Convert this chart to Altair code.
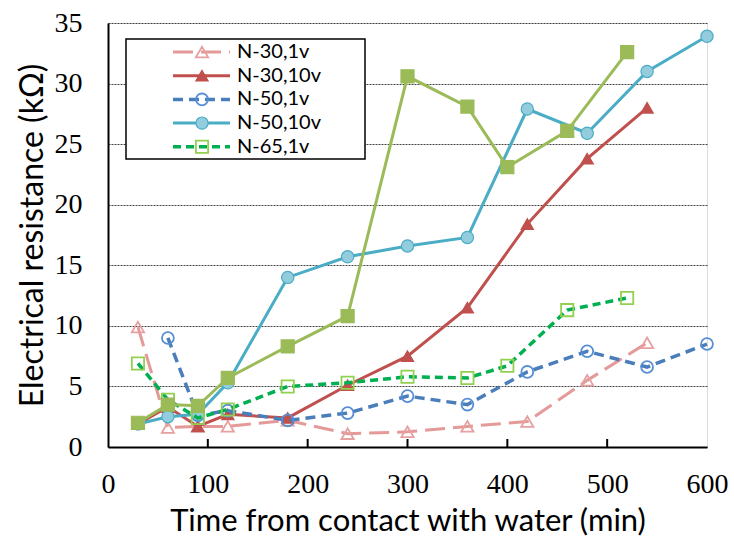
import altair as alt
import pandas as pd

# ---- data ----
t_30_1v = [30, 60, 90, 120, 180, 240, 300, 360, 420, 480, 540]
r_30_1v = [9.9, 1.6, 1.7, 1.7, 2.2, 1.1, 1.25, 1.7, 2.1, 5.5, 8.6]

t_30_10v = [30, 60, 90, 120, 180, 240, 300, 360, 420, 480, 540]
r_30_10v = [1.9, 3.3, 1.7, 2.7, 2.4, 5.1, 7.5, 11.5, 18.4, 23.8, 28.0]

t_50_1v = [60, 90, 120, 180, 240, 300, 360, 420, 480, 540, 600]
r_50_1v = [9.0, 2.6, 3.0, 2.2, 2.8, 4.2, 3.5, 6.2, 7.9, 6.6, 8.5]

t_50_10v = [30, 60, 90, 120, 180, 240, 300, 360, 420, 480, 540, 600]
r_50_10v = [1.9, 2.5, 2.7, 5.3, 14.0, 15.7, 16.6, 17.3, 27.9, 25.9, 31.0, 33.9]

t_65_1v = [30, 60, 90, 120, 180, 240, 300, 360, 400, 460, 520]
r_65_1v = [6.9, 3.9, 2.4, 3.1, 5.0, 5.3, 5.8, 5.7, 6.7, 11.3, 12.3]

t_65_10v = [30, 60, 90, 120, 180, 240, 300, 360, 400, 460, 520]
r_65_10v = [2.0, 3.5, 3.4, 5.7, 8.3, 10.8, 30.6, 28.1, 23.1, 26.1, 32.6]

x_ticks = [0, 100, 200, 300, 400, 500, 600]
y_ticks = [0, 5, 10, 15, 20, 25, 30, 35]
inner_ticks = [100, 200, 300, 400, 500]
legend_names = ["N-30,1v", "N-30,10v", "N-50,1v", "N-50,10v", "N-65,1v"]

W, H = 599, 424
SANS = "Lato"
SERIF = "Liberation Serif"

xs = alt.Scale(domain=[0, 600], nice=False, zero=False)
ys = alt.Scale(domain=[0, 35], nice=False)
X = alt.X("t:Q", scale=xs, axis=alt.Axis(values=x_ticks, title="Time from contact with water (min)",
                                          grid=False, ticks=False, labelPadding=23,
                                          labelFont=SERIF, labelFontSize=28, labelColor="black",
                                          titleFont=SANS, titleFontSize=31, titleFontWeight="normal",
                                          titleColor="black", titlePadding=8,
                                          domainColor="black", domainWidth=2, labelFlush=False))
Y = alt.Y("r:Q", scale=ys, axis=alt.Axis(values=y_ticks, title="Electrical resistance (kΩ)",
                                          grid=True, gridDash=[2, 1], gridColor="#444", gridWidth=1,
                                          ticks=False, labelPadding=26,
                                          labelFont=SERIF, labelFontSize=28, labelColor="black",
                                          titleFont=SANS, titleFontSize=32, titleFontWeight="normal",
                                          titleColor="black", titlePadding=5,
                                          domainColor="black", domainWidth=2))

series = [
    # t, r, line color, width, dash, shape, size, filled, fill, stroke
    (t_30_1v, r_30_1v, "#E39A98", 3, [20, 8], "triangle-up", 150, False, None, "#E6A0A0"),
    (t_30_10v, r_30_10v, "#C0504D", 3, None, "triangle-up", 150, True, "#C0504D", "#C0504D"),
    (t_50_1v, r_50_1v, "#4A7EBB", 3.5, [10, 6], "circle", 140, False, None, "#558ED5"),
    (t_50_10v, r_50_10v, "#4BACC6", 3, None, "circle", 150, True, "#93CDDD", "#4BACC6"),
    (t_65_1v, r_65_1v, "#00B050", 3.5, [8, 5], "square", 150, False, None, "#92D050"),
    (t_65_10v, r_65_10v, "#9BBB59", 3, None, "square", 170, True, "#9BBB59", "#9BBB59"),
]

layers = []
# inner tick marks on x axis
tick_df = pd.DataFrame({"t": inner_ticks})
layers.append(alt.Chart(tick_df).mark_rule(color="black", strokeWidth=2).encode(
    x=X, y=alt.value(H - 8), y2=alt.value(H)))

for t, r, lc, lw, dash, shape, size, filled, fill, stroke in series:
    df = pd.DataFrame({"t": t, "r": r})
    lkw = dict(color=lc, strokeWidth=lw)
    if dash:
        lkw["strokeDash"] = dash
    layers.append(alt.Chart(df).mark_line(**lkw).encode(x=X, y=Y))
    pkw = dict(shape=shape, size=size, filled=filled, stroke=stroke, strokeWidth=1.8, opacity=1)
    if filled:
        pkw["fill"] = fill
        pkw["strokeWidth"] = 1.2
    layers.append(alt.Chart(df).mark_point(**pkw).encode(x=X, y=Y))

# legend
one = pd.DataFrame({"k": [0]})
layers.append(alt.Chart(one).mark_rect(fill="white", stroke="black", strokeWidth=1.5).encode(
    x=alt.value(18), x2=alt.value(257), y=alt.value(16), y2=alt.value(136)))
for i, name in enumerate(legend_names):
    t, r, lc, lw, dash, shape, size, filled, fill, stroke = series[i]
    yy = 29 + 23.7 * i
    lkw = dict(color=lc, strokeWidth=lw)
    if dash:
        lkw["strokeDash"] = dash
    layers.append(alt.Chart(one).mark_rule(**lkw).encode(
        x=alt.value(65), x2=alt.value(122), y=alt.value(yy)))
    pkw = dict(shape=shape, size=size, filled=filled, stroke=stroke, strokeWidth=1.8, opacity=1)
    if filled:
        pkw["fill"] = fill
        pkw["strokeWidth"] = 1.2
    layers.append(alt.Chart(one).mark_point(**pkw).encode(x=alt.value(94), y=alt.value(yy)))
    layers.append(alt.Chart(one).mark_text(text=name, align="left", baseline="middle",
                                           font=SANS, fontSize=20, color="black").encode(
        x=alt.value(129), y=alt.value(yy)))

chart = alt.layer(*layers).properties(
    width=W, height=H,
    autosize=alt.AutoSizeParams(type="none"),
    padding={"left": 108, "top": 23, "right": 27, "bottom": 96},
).configure_view(stroke="black", strokeWidth=1.5).configure(background="white")

chart.save("out.html", embed_options={"renderer": "svg", "actions": False})
